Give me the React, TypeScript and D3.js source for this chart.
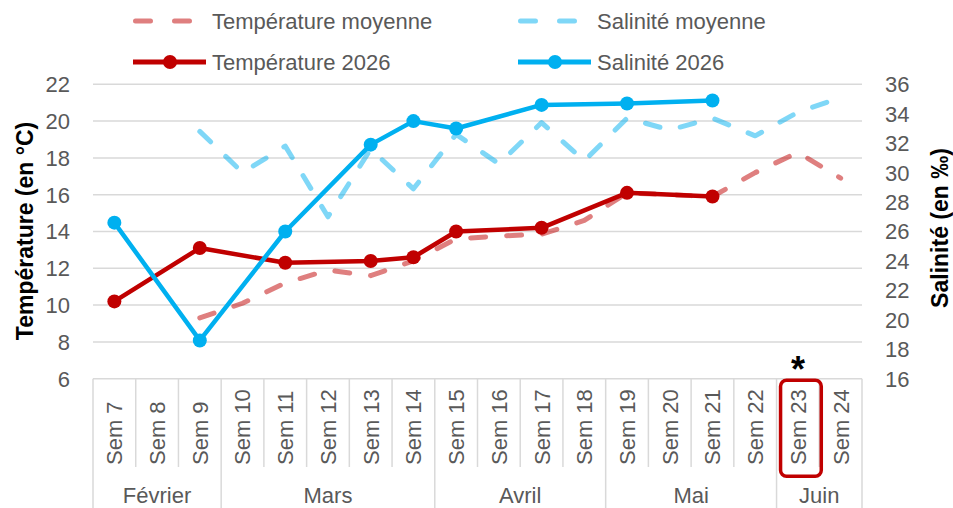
import React from "react";
import * as d3 from "d3";

const weeks = [
  "Sem 7", "Sem 8", "Sem 9", "Sem 10", "Sem 11", "Sem 12", "Sem 13", "Sem 14", "Sem 15",
  "Sem 16", "Sem 17", "Sem 18", "Sem 19", "Sem 20", "Sem 21", "Sem 22", "Sem 23", "Sem 24",
];
const months = ["Février", "Mars", "Avril", "Mai", "Juin"];
const monthWeekCounts = [3, 5, 4, 4, 2];

const tempAvg: (number | null)[] = [null, null, 9.3, 10.1, 11.2, 11.9, 11.6, 12.4, 13.6, 13.75, 13.85, 14.6, 16.1, 16.0, 15.9, 17.2, 18.3, 16.9];
const tempActual: (number | null)[] = [10.2, null, 13.1, null, 12.3, null, 12.4, 12.6, 14.0, null, 14.2, null, 16.1, null, 15.9, null, null, null];
const salAvg: (number | null)[] = [null, null, 32.8, 30.0, 31.8, 27.0, 31.6, 28.9, 32.6, 30.6, 33.4, 30.8, 33.7, 32.9, 33.7, 32.5, 34.1, 35.1];
const salActual: (number | null)[] = [26.6, null, 18.6, null, 26.0, null, 31.9, 33.5, 33.0, null, 34.6, null, 34.7, null, 34.9, null, null, null];

const tempTicks = [6, 8, 10, 12, 14, 16, 18, 20, 22];
const salTicks = [16, 18, 20, 22, 24, 26, 28, 30, 32, 34, 36];
const highlightedWeek = "Sem 23";

const legendItems = [
  { label: "Température moyenne", kind: "dash", color: "rgba(192,0,0,0.5)" },
  { label: "Salinité moyenne", kind: "dash", color: "rgba(0,176,240,0.5)" },
  { label: "Température 2026", kind: "solid", color: "#C00000" },
  { label: "Salinité 2026", kind: "solid", color: "#00B0F0" },
];

const FONT = "'Liberation Sans', Arial, sans-serif";
const GRID = "#d9d9d9";
const TXT = "#595959";

export default function App() {
  const W = 953, H = 508;
  const left = 93, right = 862, top = 84.3, bottom = 378.7;

  const x = d3.scaleBand<string>().domain(weeks).range([left, right]).padding(0);
  const bw = x.bandwidth();
  const cx = (w: string) => (x(w) as number) + bw / 2;
  const yT = d3.scaleLinear().domain([6, 22]).range([bottom, top]);
  const yS = d3.scaleLinear().domain([16, 36]).range([bottom, top]);

  const pts = (vals: (number | null)[]) =>
    weeks.map((w, i) => ({ w, v: vals[i] })).filter((d) => d.v != null) as { w: string; v: number }[];

  const lineT = d3.line<{ w: string; v: number }>().x((d) => cx(d.w)).y((d) => yT(d.v));
  const lineS = d3.line<{ w: string; v: number }>().x((d) => cx(d.w)).y((d) => yS(d.v));

  const bounds: number[] = [0];
  monthWeekCounts.forEach((c, i) => bounds.push(bounds[i] + c));
  const xAt = (i: number) => (i >= weeks.length ? right : (x(weeks[i]) as number));

  const dash = "15,21";

  const legendPos = [
    { x: 133, y: 21, tx: 212 },
    { x: 518, y: 21, tx: 597 },
    { x: 133, y: 62, tx: 212 },
    { x: 518, y: 62, tx: 597 },
  ];

  const hx = x(highlightedWeek) as number;

  return (
    <svg width={W} height={H} style={{ position: "absolute", left: 0, top: 0, background: "#fff" }} fontFamily={FONT}>
      <rect x={0} y={0} width={W} height={H} fill="#fff" />
      {tempTicks.map((t) => (
        <line key={"g" + t} x1={left} x2={right} y1={yT(t)} y2={yT(t)} stroke={GRID} strokeWidth={1.5} />
      ))}
      {tempTicks.map((t) => (
        <text key={"lt" + t} x={70} y={yT(t)} dy="0.36em" textAnchor="end" fontSize={22} fill={TXT}>
          {t}
        </text>
      ))}
      {salTicks.map((t) => (
        <text key={"rt" + t} x={885} y={yS(t)} dy="0.36em" textAnchor="start" fontSize={22} fill={TXT}>
          {t}
        </text>
      ))}
      <text transform={`translate(25,231) rotate(-90)`} dy="0.36em" textAnchor="middle" fontSize={23} fontWeight="bold" fill="#000">
        Température (en °C)
      </text>
      <text transform={`translate(940,228) rotate(-90)`} dy="0.36em" textAnchor="middle" fontSize={23} fontWeight="bold" fill="#000">
        Salinité (en ‰)
      </text>

      {d3.range(0, weeks.length + 1).map((i) => {
        const isMonth = bounds.includes(i);
        return (
          <line key={"s" + i} x1={xAt(i)} x2={xAt(i)} y1={bottom} y2={isMonth ? H : 467} stroke={GRID} strokeWidth={1.5} />
        );
      })}
      {weeks.map((w) => (
        <text key={"w" + w} transform={`translate(${cx(w)},465) rotate(-90)`} dy="0.36em" textAnchor="start" fontSize={22} fill={TXT}>
          {w}
        </text>
      ))}
      {months.map((m, i) => (
        <text key={"m" + m} x={(xAt(bounds[i]) + xAt(bounds[i + 1])) / 2} y={495} dy="0.36em" textAnchor="middle" fontSize={22} fill={TXT}>
          {m}
        </text>
      ))}

      <rect x={hx + 4} y={bottom + 1.5} width={bw - 2} height={96} rx={6} fill="none" stroke="#C00000" strokeWidth={3.5} />
      <text x={cx(highlightedWeek)} y={bottom + 3} textAnchor="middle" fontSize={36} fontWeight="bold" fill="#000">
        *
      </text>

      <path d={lineT(pts(tempAvg)) || ""} fill="none" stroke="rgba(192,0,0,0.5)" strokeWidth={5} strokeDasharray={dash} strokeLinecap="round" strokeLinejoin="round" />
      <path d={lineS(pts(salAvg)) || ""} fill="none" stroke="rgba(0,176,240,0.5)" strokeWidth={5} strokeDasharray={dash} strokeLinecap="round" strokeLinejoin="round" />
      <path d={lineT(pts(tempActual)) || ""} fill="none" stroke="#C00000" strokeWidth={4.5} strokeLinejoin="round" />
      {pts(tempActual).map((d) => (
        <circle key={"tc" + d.w} cx={cx(d.w)} cy={yT(d.v)} r={7} fill="#C00000" />
      ))}
      <path d={lineS(pts(salActual)) || ""} fill="none" stroke="#00B0F0" strokeWidth={4.5} strokeLinejoin="round" />
      {pts(salActual).map((d) => (
        <circle key={"sc" + d.w} cx={cx(d.w)} cy={yS(d.v)} r={7} fill="#00B0F0" />
      ))}

      {legendItems.map((it, i) => {
        const p = legendPos[i];
        return (
          <g key={"lg" + i}>
            {it.kind === "dash" ? (
              <line x1={p.x + 2.5} x2={p.x + 62} y1={p.y} y2={p.y} stroke={it.color} strokeWidth={5} strokeDasharray="15,24" strokeLinecap="round" />
            ) : (
              <>
                <line x1={p.x} x2={p.x + 73} y1={p.y} y2={p.y} stroke={it.color} strokeWidth={5} />
                <circle cx={p.x + 37} cy={p.y} r={7} fill={it.color} />
              </>
            )}
            <text x={p.tx} y={p.y} dy="0.36em" fontSize={22} fill={TXT}>
              {it.label}
            </text>
          </g>
        );
      })}
    </svg>
  );
}
